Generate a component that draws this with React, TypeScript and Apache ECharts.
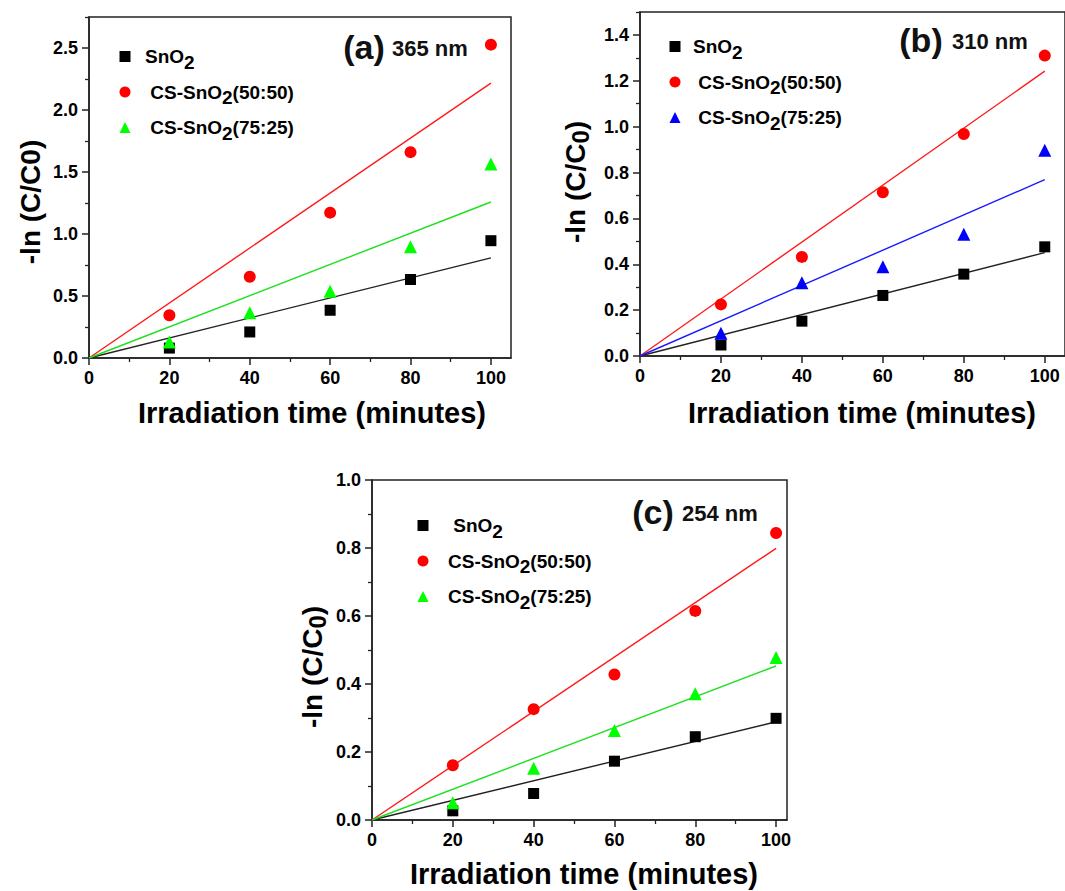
import React, { useEffect, useRef } from "react";
import * as echarts from "echarts";

// ---------- data ----------
const times = [20, 40, 60, 80, 100];
const xMajorTicks = [0, 20, 40, 60, 80, 100];
const xMinorTicks = [10, 30, 50, 70, 90];

// panel (a) 365 nm
const aSnO2 = [0.08, 0.21, 0.385, 0.633, 0.946];
const aCS5050 = [0.345, 0.655, 1.172, 1.66, 2.527];
const aCS7525 = [0.13, 0.364, 0.539, 0.897, 1.565];
const aFitAt100 = [0.808, 2.217, 1.258];
const aYMajor = [0, 0.5, 1.0, 1.5, 2.0, 2.5];
const aYMinor = [0.25, 0.75, 1.25, 1.75, 2.25, 2.75];

// panel (b) 310 nm
const bSnO2 = [0.048, 0.152, 0.264, 0.357, 0.476];
const bCS5050 = [0.225, 0.432, 0.714, 0.968, 1.31];
const bCS7525 = [0.099, 0.319, 0.389, 0.531, 0.897];
const bFitAt100 = [0.451, 1.242, 0.769];
const bYMajor = [0, 0.2, 0.4, 0.6, 0.8, 1.0, 1.2, 1.4];
const bYMinor = [0.1, 0.3, 0.5, 0.7, 0.9, 1.1, 1.3, 1.5];

// panel (c) 254 nm
const cSnO2 = [0.027, 0.078, 0.173, 0.245, 0.299];
const cCS5050 = [0.161, 0.326, 0.428, 0.615, 0.844];
const cCS7525 = [0.051, 0.152, 0.263, 0.371, 0.478];
const cFitAt100 = [0.289, 0.799, 0.453];
const cYMajor = [0, 0.2, 0.4, 0.6, 0.8, 1.0];
const cYMinor = [0.1, 0.3, 0.5, 0.7, 0.9];

const FONT = "'Liberation Sans', Arial, sans-serif";

type Panel = {
  key: string;
  grid: { left: number; top: number; width: number; height: number };
  xMax: number;
  yMax: number;
  yMajor: number[];
  yMinor: number[];
  values: number[][];
  fits: number[];
  colors: string[];
  lineColors: string[];
  legend: { left: number; top: number; spacer: number; labels: string[] };
};

const panels: Panel[] = [
  {
    key: "a",
    grid: { left: 89, top: 17, width: 422, height: 341 },
    xMax: 105,
    yMax: 2.75,
    yMajor: aYMajor,
    yMinor: aYMinor,
    values: [aSnO2, aCS5050, aCS7525],
    fits: aFitAt100,
    colors: ["#000000", "#ff0000", "#00ff00"],
    lineColors: ["#222222", "#ff1a1a", "#1ee01e"],
    legend: {
      left: 119.5,
      top: 47,
      spacer: 9.5,
      labels: ["{n|SnO}{s|2}", "{n| CS-SnO}{s|2}{n|(50:50)}", "{n| CS-SnO}{s|2}{n|(75:25)}"],
    },
  },
  {
    key: "b",
    grid: { left: 640, top: 12, width: 426, height: 344 },
    xMax: 105,
    yMax: 1.5,
    yMajor: bYMajor,
    yMinor: bYMinor,
    values: [bSnO2, bCS5050, bCS7525],
    fits: bFitAt100,
    colors: ["#000000", "#ff0000", "#0000ff"],
    lineColors: ["#222222", "#ff1a1a", "#1a1aff"],
    legend: {
      left: 669.5,
      top: 37,
      spacer: 7.5,
      labels: ["{n|SnO}{s|2}", "{n| CS-SnO}{s|2}{n|(50:50)}", "{n| CS-SnO}{s|2}{n|(75:25)}"],
    },
  },
  {
    key: "c",
    grid: { left: 372, top: 480, width: 415, height: 340 },
    xMax: 102.7,
    yMax: 1.0,
    yMajor: cYMajor,
    yMinor: cYMinor,
    values: [cSnO2, cCS5050, cCS7525],
    fits: cFitAt100,
    colors: ["#000000", "#ff0000", "#00ff00"],
    lineColors: ["#222222", "#ff1a1a", "#1ee01e"],
    legend: {
      left: 417.5,
      top: 516,
      spacer: 14.5,
      labels: ["{n| SnO}{s|2}", "{n|CS-SnO}{s|2}{n|(50:50)}", "{n|CS-SnO}{s|2}{n|(75:25)}"],
    },
  },
];

const symbols = ["rect", "circle", "triangle"];
const symbolSizes = [11, 12, 13];

const panelTitles = [
  { letter: "(a)", nm: "365 nm", cx: 364, cy: 47, nmx: 392 },
  { letter: "(b)", nm: "310 nm", cx: 921, cy: 40, nmx: 952 },
  { letter: "(c)", nm: "254 nm", cx: 653, cy: 512, nmx: 682 },
];
const xTitlePos = [
  [312, 413],
  [862, 413],
  [584, 874],
];
const yTitlePos = [
  [30, 202, false],
  [575, 182, true],
  [312, 667, true],
];

function buildOption() {
  const grid: any[] = [];
  const xAxis: any[] = [];
  const yAxis: any[] = [];
  const series: any[] = [];
  const legend: any[] = [];
  const graphic: any[] = [];

  panels.forEach((p, pi) => {
    grid.push({
      ...p.grid,
      show: true,
      borderColor: "#222",
      borderWidth: 1.5,
      backgroundColor: "transparent",
    });
    const tickStyle = { color: "#222", width: 1.5 };
    const minorTickStyle = { color: "#222", width: 1.3 };
    const labelStyle = {
      margin: 11,
      color: "#000",
      fontSize: 18,
      fontWeight: "bold",
      fontFamily: FONT,
    };
    // major x
    xAxis.push({
      type: "value",
      gridIndex: pi,
      position: "bottom",
      min: 0,
      max: p.xMax,
      axisLine: { show: true, onZero: false, lineStyle: tickStyle },
      axisTick: { show: true, customValues: xMajorTicks, length: 7, lineStyle: tickStyle },
      axisLabel: { ...labelStyle, customValues: xMajorTicks, formatter: (v: number) => String(Math.round(v)) },
      splitLine: { show: false },
    });
    // minor x
    xAxis.push({
      type: "value",
      gridIndex: pi,
      position: "bottom",
      offset: 0,
      min: 0,
      max: p.xMax,
      axisLine: { show: false, onZero: false },
      axisTick: { show: true, customValues: xMinorTicks, length: 4, lineStyle: minorTickStyle },
      axisLabel: { show: false },
      splitLine: { show: false },
    });
    yAxis.push({
      type: "value",
      gridIndex: pi,
      position: "left",
      min: 0,
      max: p.yMax,
      axisLine: { show: true, onZero: false, lineStyle: tickStyle },
      axisTick: { show: true, customValues: p.yMajor, length: 7, lineStyle: tickStyle },
      axisLabel: { ...labelStyle, customValues: p.yMajor, formatter: (v: number) => v.toFixed(1) },
      splitLine: { show: false },
    });
    yAxis.push({
      type: "value",
      gridIndex: pi,
      position: "left",
      offset: 0,
      min: 0,
      max: p.yMax,
      axisLine: { show: false, onZero: false },
      axisTick: { show: true, customValues: p.yMinor, length: 4, lineStyle: minorTickStyle },
      axisLabel: { show: false },
      splitLine: { show: false },
    });

    const names = p.legend.labels.map((_, i) => `${p.key}${i}`);
    p.values.forEach((vals, si) => {
      series.push({
        name: names[si],
        type: "scatter",
        xAxisIndex: pi * 2,
        yAxisIndex: pi * 2,
        symbol: symbols[si],
        symbolSize: symbolSizes[si],
        itemStyle: { color: p.colors[si], opacity: 1 },
        data: times.map((t, i) => [t, vals[i]]),
        z: 3,
      });
      series.push({
        name: `${p.key}fit${si}`,
        type: "line",
        xAxisIndex: pi * 2,
        yAxisIndex: pi * 2,
        showSymbol: false,
        symbol: "none",
        lineStyle: { color: p.lineColors[si], width: 1.4 },
        data: [
          [0, 0],
          [100, p.fits[si]],
        ],
        z: 2,
      });
    });

    const labelMap: Record<string, string> = {};
    names.forEach((n, i) => (labelMap[n] = "{p| }" + p.legend.labels[i]));
    legend.push({
      show: true,
      orient: "vertical",
      left: p.legend.left,
      top: p.legend.top,
      padding: 0,
      itemGap: 11,
      itemWidth: 11,
      itemHeight: 11,
      data: names.map((n, i) => ({ name: n, icon: symbols[i], itemStyle: { color: p.colors[i], opacity: 1 } })),
      formatter: (n: string) => labelMap[n],
      textStyle: {
        color: "#000",
        rich: {
          p: { width: p.legend.spacer, fontSize: 19 },
          n: { fontSize: 19, fontWeight: "bold", fontFamily: FONT, color: "#000" },
          s: { fontSize: 19, fontWeight: "bold", fontFamily: FONT, color: "#000", padding: [11, 0, 0, 0] },
        },
      },
      selectedMode: false,
    });

    const t = panelTitles[pi];
    graphic.push({
      type: "text",
      x: t.cx,
      y: t.cy,
      style: {
        text: t.letter,
        fontSize: 34,
        fontWeight: "bold",
        fontFamily: FONT,
        fill: "#111",
        align: "center",
        verticalAlign: "middle",
        textAlign: "center",
        textVerticalAlign: "middle",
      },
    });
    graphic.push({
      type: "text",
      x: t.nmx,
      y: t.cy + 1,
      style: {
        text: t.nm,
        fontSize: 22,
        fontWeight: "bold",
        fontFamily: FONT,
        fill: "#111",
        align: "left",
        verticalAlign: "middle",
        textAlign: "left",
        textVerticalAlign: "middle",
      },
    });
    const xp = xTitlePos[pi];
    graphic.push({
      type: "text",
      x: xp[0],
      y: xp[1],
      style: {
        text: "Irradiation time (minutes)",
        fontSize: 29,
        fontWeight: "bold",
        fontFamily: FONT,
        fill: "#000",
        align: "center",
        verticalAlign: "middle",
        textAlign: "center",
        textVerticalAlign: "middle",
      },
    });
    const yp = yTitlePos[pi];
    graphic.push({
      type: "text",
      x: yp[0] as number,
      y: yp[1] as number,
      rotation: Math.PI / 2,
      style: {
        text: yp[2] ? "{m|-ln (C/C}{z|0}{m|)}" : "{m|-ln (C/C0)}",
        align: "center",
        verticalAlign: "middle",
        textAlign: "center",
        textVerticalAlign: "middle",
        rich: {
          m: { fontSize: 28, fontWeight: "bold", fontFamily: FONT, fill: "#000", color: "#000", lineHeight: 36 },
          z: {
            fontSize: 24,
            fontWeight: "bold",
            fontFamily: FONT,
            fill: "#000",
            color: "#000",
            padding: [10, 0, 0, 0],
          },
        },
      },
    });
  });

  return {
    animation: false,
    backgroundColor: "#ffffff",
    grid,
    xAxis,
    yAxis,
    series,
    legend,
    graphic,
  };
}

export default function App() {
  const ref = useRef<HTMLDivElement>(null);
  useEffect(() => {
    if (!ref.current) return;
    const chart = echarts.init(ref.current, undefined, { renderer: "svg" });
    chart.setOption(buildOption() as any);
    return () => chart.dispose();
  }, []);
  return (
    <div
      ref={ref}
      style={{ position: "absolute", left: 0, top: 0, width: 1065, height: 891, background: "#fff" }}
    />
  );
}
